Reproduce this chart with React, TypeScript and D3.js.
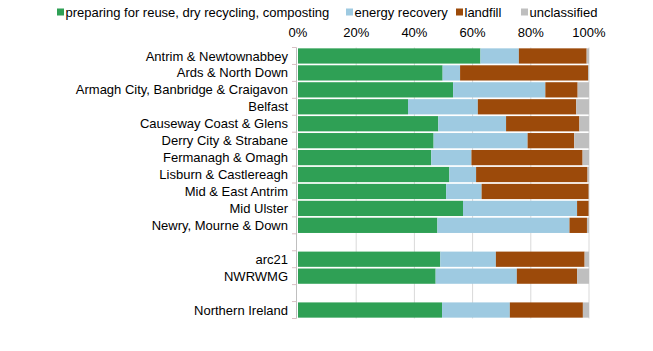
import React from "react";
import * as d3 from "d3";

// Row labels ("" = spacer rows between groups)
const regions = [
  "Antrim & Newtownabbey",
  "Ards & North Down",
  "Armagh City, Banbridge & Craigavon",
  "Belfast",
  "Causeway Coast & Glens",
  "Derry City & Strabane",
  "Fermanagh & Omagh",
  "Lisburn & Castlereagh",
  "Mid & East Antrim",
  "Mid Ulster",
  "Newry, Mourne & Down",
  "",
  "arc21",
  "NWRWMG",
  "",
  "Northern Ireland",
];

// shares in % per row
const recycling = [62.7, 49.7, 53.3, 37.8, 48.2, 46.6, 45.8, 52.0, 50.9, 56.7, 47.9, 0, 48.9, 47.3, 0, 49.5];
const energy = [13.2, 6.0, 31.7, 24.0, 23.3, 32.3, 13.8, 9.2, 12.2, 39.2, 45.4, 0, 19.1, 27.9, 0, 23.3];
const landfill = [23.3, 44.0, 11.1, 33.8, 25.2, 16.0, 38.2, 38.3, 36.8, 4.0, 6.0, 0, 30.5, 20.7, 0, 25.1];
const unclassified = [0.8, 0.3, 3.9, 4.4, 3.3, 5.1, 2.2, 0.5, 0.1, 0.1, 0.7, 0, 1.5, 4.1, 0, 2.1];

const seriesNames = ["preparing for reuse, dry recycling, composting", "energy recovery", "landfill", "unclassified"];
const seriesColors = ["#2fa055", "#9ecae1", "#9c4a0a", "#bfbfbf"];
const xTicks = [0, 20, 40, 60, 80, 100];

const W = 653;
const H = 351;
const font = "'Liberation Sans', Arial, sans-serif";

export default function App() {
  const keys = ["recycling", "energy", "landfill", "unclassified"];
  const rows = regions.map((name, i) => ({
    id: "r" + i,
    name,
    recycling: recycling[i],
    energy: energy[i],
    landfill: landfill[i],
    unclassified: unclassified[i],
  }));

  const x = d3.scaleLinear().domain([0, 100]).range([298, 589]);
  const y = d3
    .scaleBand()
    .domain(rows.map((d) => d.id))
    .range([47.5, 318.5])
    .paddingInner(0.1)
    .paddingOuter(0.05);

  const stack = d3.stack().keys(keys)(rows as any);
  const [r0, r1] = y.range();
  const boundaries = d3.range(regions.length + 1).map((i) => r0 + (r1 - r0) * (i / regions.length));

  // legend layout
  const legendX = [57, 346, 456, 521];

  return (
    <svg
      width={W}
      height={H}
      style={{ position: "absolute", left: 0, top: 0, background: "#fff" }}
      fontFamily={font}
    >
      {/* legend */}
      {seriesNames.map((name, i) => (
        <g key={name} transform={`translate(${legendX[i]},12)`}>
          <rect x={0} y={-3.5} width={7} height={7} fill={seriesColors[i]} />
          <text x={8.5} y={0} dy="0.35em" fontSize={13} fill="#000">
            {name}
          </text>
        </g>
      ))}

      {/* gridlines */}
      {xTicks.slice(1).map((t) => (
        <line key={t} x1={x(t)} x2={x(t)} y1={r0} y2={r1} stroke="#d9d9d9" strokeWidth={1} />
      ))}

      {/* x tick labels */}
      {xTicks.map((t) => (
        <text key={t} x={x(t)} y={37} textAnchor="middle" fontSize={13} fill="#000">
          {t}%
        </text>
      ))}

      {/* bars */}
      {stack.map((layer, li) => (
        <g key={layer.key} fill={seriesColors[li]}>
          {layer.map((d: any) =>
            d[1] - d[0] > 0 ? (
              <rect
                key={d.data.id}
                x={x(d[0])}
                y={y(d.data.id)}
                width={x(d[1]) - x(d[0])}
                height={y.bandwidth()}
              />
            ) : null
          )}
        </g>
      ))}

      {/* category axis */}
      <line x1={296.5} x2={296.5} y1={r0} y2={r1} stroke="#bfbfbf" />
      {boundaries.map((b, i) => (
        <line key={i} x1={292} x2={296.5} y1={b} y2={b} stroke="#d9bfc4" />
      ))}
      {rows.map((d) =>
        d.name ? (
          <text
            key={d.id}
            x={288}
            y={(y(d.id) as number) + y.bandwidth() / 2}
            dy="0.35em"
            textAnchor="end"
            fontSize={13}
            fill="#000"
          >
            {d.name}
          </text>
        ) : null
      )}
    </svg>
  );
}
